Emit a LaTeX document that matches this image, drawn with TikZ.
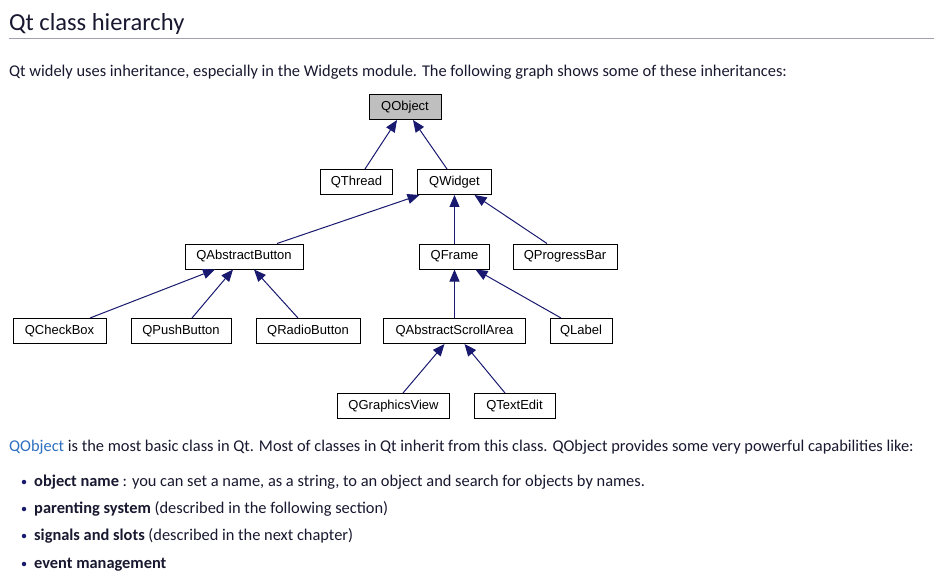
\documentclass[tikz,border=0pt]{standalone}
\usepackage{fontspec}
\setmainfont{Carlito}
\newfontfamily\diagfont{Liberation Sans}
\usetikzlibrary{arrows.meta}
\definecolor{txt}{RGB}{24,24,48}
\definecolor{navy}{RGB}{25,25,112}
\definecolor{linkblue}{RGB}{45,111,192}
\definecolor{rulegray}{RGB}{160,160,176}
\definecolor{boxgray}{RGB}{191,191,191}
\begin{document}
\begin{tikzpicture}[x=1pt,y=-1pt,
  cls/.style={draw=black, line width=1pt, minimum height=25pt, inner sep=0pt, text=black,
    font=\diagfont\fontsize{13}{15}\selectfont},
  inh/.style={draw=navy, line width=1pt, -{Triangle[length=12pt,width=10pt]}, shorten >=0pt},
  body/.style={anchor=base west, inner sep=0pt, text=txt, font=\fontsize{16.4}{19}\selectfont},
  dot/.style={circle, fill=navy, inner sep=0pt, minimum size=4.5pt}]
\useasboundingbox (0,0) rectangle (934,588);
\fill[white] (0,0) rectangle (934,588);

% title
\node[body, font=\fontsize{24.5}{28}\selectfont] (title) at (9,31) {Qt class hierarchy};
\coordinate (ruleL) at (9,39);
\coordinate (ruleR) at (934,39);
\draw[rulegray, line width=1pt] (ruleL) -- (ruleR);
\node[body] (intro) at (9,77) {Qt widely uses inheritance, especially in the Widgets module. The following graph shows some of these inheritances:};

% diagram
\node[cls, fill=boxgray, minimum width=72pt] (qobject) at (405,107) {QObject};
\node[cls, minimum width=72pt] (qthread) at (356.5,182) {QThread};
\node[cls, minimum width=74pt] (qwidget) at (454.5,182) {QWidget};
\node[cls, minimum width=118pt] (qabutton) at (244,256.5) {QAbstractButton};
\node[cls, minimum width=70pt] (qframe) at (454.5,256.5) {QFrame};
\node[cls, minimum width=104pt] (qprogress) at (565,256.5) {QProgressBar};
\node[cls, minimum width=93pt] (qcheck) at (59.5,331) {QCheckBox};
\node[cls, minimum width=100pt] (qpush) at (181,331) {QPushButton};
\node[cls, minimum width=104pt] (qradio) at (308,331) {QRadioButton};
\node[cls, minimum width=142pt] (qasa) at (454.5,331) {QAbstractScrollArea};
\node[cls, minimum width=62pt] (qlabel) at (581,331) {QLabel};
\node[cls, minimum width=112pt] (qgview) at (393.5,406) {QGraphicsView};
\node[cls, minimum width=81pt] (qtedit) at (514.5,406) {QTextEdit};

\draw[inh] ([xshift=8.5pt]qthread.north) -- ([xshift=-8pt]qobject.south);
\draw[inh] ([xshift=-7.5pt]qwidget.north) -- ([xshift=8pt]qobject.south);
\draw[inh] ([xshift=33pt]qabutton.north) -- ([xshift=-35pt]qwidget.south);
\draw[inh] (qframe.north) -- (qwidget.south);
\draw[inh] ([xshift=-18pt]qprogress.north) -- ([xshift=20pt]qwidget.south);
\draw[inh] ([xshift=30.5pt]qcheck.north) -- ([xshift=-29pt]qabutton.south);
\draw[inh] ([xshift=11pt]qpush.north) -- ([xshift=-11pt]qabutton.south);
\draw[inh] ([xshift=-10pt]qradio.north) -- ([xshift=10pt]qabutton.south);
\draw[inh] (qasa.north) -- (qframe.south);
\draw[inh] ([xshift=-20pt]qlabel.north) -- ([xshift=21pt]qframe.south);
\draw[inh] ([xshift=9.5pt]qgview.north) -- ([xshift=-10pt]qasa.south);
\draw[inh] ([xshift=-9.5pt]qtedit.north) -- ([xshift=10pt]qasa.south);

% lower text
\node[body] (para) at (9,451) {\textcolor{linkblue}{QObject} is the most basic class in Qt. Most of classes in Qt inherit from this class. QObject provides some very powerful capabilities like:};
\node[dot] (b1) at (24,482) {};
\node[body] (t1) at (34,486) {\textbf{object name} : you can set a name, as a string, to an object and search for objects by names.};
\node[dot] (b2) at (24,509) {};
\node[body] (t2) at (34,513) {\textbf{parenting system} (described in the following section)};
\node[dot] (b3) at (24,536) {};
\node[body] (t3) at (34,540) {\textbf{signals and slots} (described in the next chapter)};
\node[dot] (b4) at (24,564) {};
\node[body] (t4) at (34,568) {\textbf{event management}};
\end{tikzpicture}
\end{document}
